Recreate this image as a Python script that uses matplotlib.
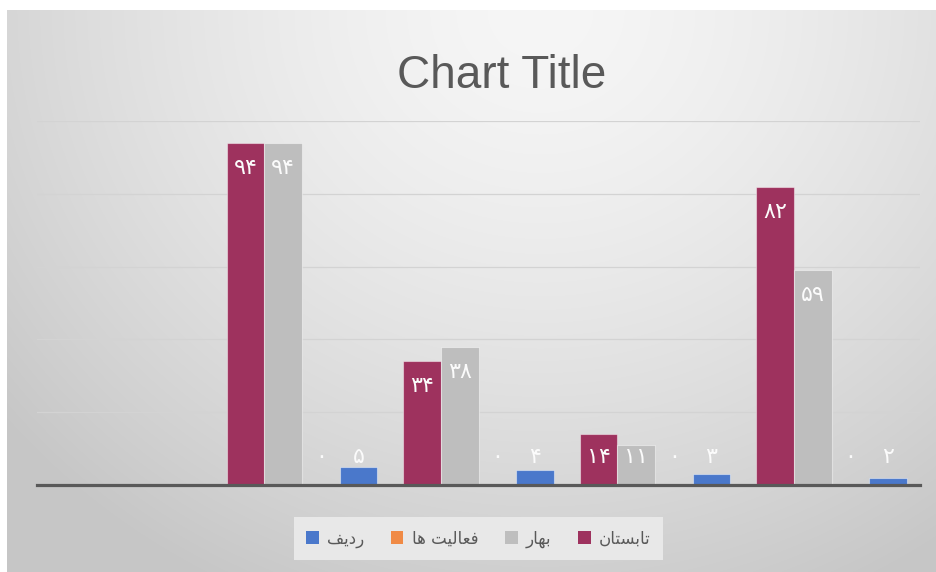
import numpy as np
import matplotlib
matplotlib.use("Agg")
import matplotlib.pyplot as plt
from matplotlib.patches import Patch

# ---------------- data ----------------
# five category slots, left to right (the leftmost slot is empty in the chart)
categories = ["", "1", "2", "3", "4"]

# series names (Persian, pre-shaped into Arabic presentation forms, visual order)
name_tabestan = "\uFEE5\uFE8E\uFE98\uFEB4\uFE91\uFE8E\uFE97"          # تابستان
name_bahar = "\uFEAD\uFE8E\uFEEC\uFE91"                                # بهار
name_faaliat = "\uFE8E\uFEEB \uFE96\uFEF4\uFEDF\uFE8E\uFECC\uFED3"     # فعالیت ها
name_radif = "\uFED2\uFEF3\uFEA9\uFEAD"                                # ردیف

tabestan = [np.nan, 94, 34, 14, 82]
bahar = [np.nan, 94, 38, 11, 59]
faaliat = [np.nan, 0, 0, 0, 0]
radif = [np.nan, 5, 4, 3, 2]

title = "Chart Title"

# ---------------- style ----------------
W, H, DPI = 937, 572, 100
c_tab = "#9E325E"
c_bah = "#BEBEBE"
c_faa = "#F08A45"
c_rad = "#4A78CB"
txt_col = "#595959"

persian = str.maketrans("0123456789", "۰۱۲۳۴۵۶۷۸۹")

fig = plt.figure(figsize=(W / DPI, H / DPI), dpi=DPI)
fig.patch.set_facecolor("white")

# background gradient panel (chart area)
bx0, by0 = 7, 10
bg = fig.add_axes([bx0 / W, 0, (W - bx0) / W, (H - by0) / H], zorder=-10)
yy, xx = np.mgrid[by0:H, bx0:W]
d = np.sqrt(((xx - 540) / 700.0) ** 2 + ((yy - 10) / 650.0) ** 2)
val = (246 - 48 * np.clip(d, 0, 1) ** 1.5) / 255.0
bg.imshow(np.dstack([val, val, val]), aspect="auto", interpolation="bilinear")
bg.set_axis_off()

# main plot area
ax_l, ax_r, ax_b, ax_t = 37, 920, 485, 121
ax = fig.add_axes([ax_l / W, (H - ax_b) / H, (ax_r - ax_l) / W, (ax_b - ax_t) / H])
ax.patch.set_alpha(0)

x = np.arange(len(categories))
w = 0.213
series = [
    (name_tabestan, tabestan, c_tab),
    (name_bahar, bahar, c_bah),
    (name_faaliat, faaliat, c_faa),
    (name_radif, radif, c_rad),
]
offsets = np.array([-1.5, -0.5, 0.5, 1.5]) * w

ax.set_xlim(-0.5, len(categories) - 0.5)
ax.set_ylim(0, 100)
ax.set_yticks([0, 20, 40, 60, 80, 100])
ax.grid(axis="y", color="#d3d3d3", lw=0.9, zorder=0)
ax.set_axisbelow(True)
for s in ["top", "right", "left", "bottom"]:
    ax.spines[s].set_visible(False)
ax.axhline(0, color=txt_col, lw=2.3, zorder=5, clip_on=False)
ax.tick_params(left=False, bottom=False, labelleft=False, labelbottom=False)

units_per_px = 100.0 / (ax_b - ax_t)
handles = {}
for (name, vals, col), off in zip(series, offsets):
    vals = np.array(vals, dtype=float)
    bars = ax.bar(x + off, vals, width=w, color=col, edgecolor=(1, 1, 1, 0.45),
                  linewidth=0.8, zorder=3)
    handles[name] = Patch(facecolor=col, edgecolor="none")
    for xi, v in zip(x + off, vals):
        if np.isnan(v):
            continue
        ylab = max(v - 25 * units_per_px, 28 * units_per_px)
        ax.text(xi, ylab, str(int(v)).translate(persian), ha="center", va="center",
                color="#fbfbfb", fontsize=16, fontweight="normal",
                family=["DejaVu Sans"], zorder=6)

# title
fig.text(502 / W, 1 - 88 / H, title, ha="center", va="baseline",
         fontsize=33, color=txt_col, family=["Liberation Sans", "DejaVu Sans"])

# legend (left to right as in the reference)
order = [name_radif, name_faaliat, name_bahar, name_tabestan]
leg = fig.legend([handles[n] for n in order], order, loc="center",
                 bbox_to_anchor=(478.5 / W, 1 - 538.5 / H), ncol=4, frameon=True,
                 prop={"family": "DejaVu Sans", "size": 12},
                 handlelength=0.75, handleheight=0.75, handletextpad=0.5,
                 columnspacing=1.6, borderpad=0.75, fancybox=False)
leg.get_frame().set_facecolor("#e8e8e8")
leg.get_frame().set_edgecolor("none")
leg.get_frame().set_alpha(1)
for t in leg.get_texts():
    t.set_color(txt_col)

fig.savefig("out.png", dpi=DPI)
